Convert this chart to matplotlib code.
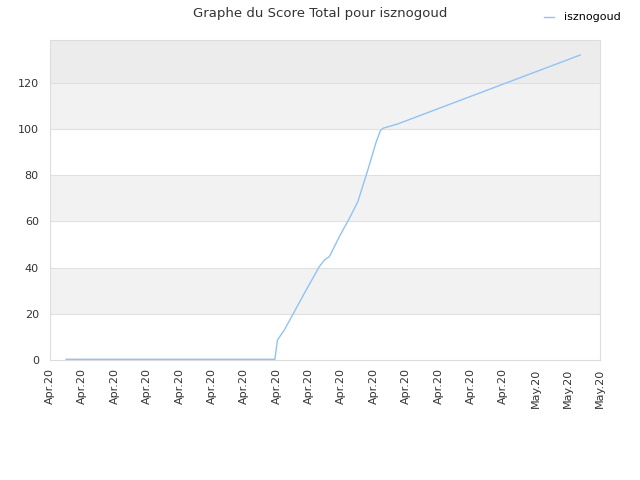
import matplotlib.pyplot as plt

# score values (x in tick-index units)
x_vals = [0.50, 6.95, 7.01, 7.03, 7.24, 7.55, 7.86, 8.32, 8.48, 8.63, 8.94, 9.25,
          9.51, 9.82, 10.08, 10.21, 10.29, 10.75, 16.38]
scores = [0.3, 0.3, 6.9, 8.7, 13.0, 20.9, 28.9, 40.4, 43.3, 44.7, 53.4, 61.3,
          68.5, 82.3, 94.5, 99.3, 100.3, 102.2, 132.0]
tick_labels = ['Apr.20'] * 15 + ['May.20'] * 3

fig = plt.figure(figsize=(6.4, 4.8), dpi=100)
ax = fig.add_axes([0.078, 0.25, 0.86, 0.6667])

ymax = 138.5
# alternating background bands
bands = [(20, 40, '#f2f2f2'), (60, 80, '#f2f2f2'), (100, 120, '#f2f2f2'), (120, ymax, '#ececec')]
for lo, hi, c in bands:
    ax.axhspan(lo, hi, color=c, zorder=0, lw=0)
for yv in range(20, 140, 20):
    ax.axhline(yv, color='#e0e0e0', lw=0.8, zorder=1)

ax.plot(x_vals, scores, color='#90c3f5', lw=1.0, label='isznogoud', zorder=3)

ax.set_xlim(0, 17)
ax.set_ylim(0, ymax)
ax.set_xticks(range(len(tick_labels)))
ax.set_xticklabels(tick_labels, rotation=90, fontsize=8, color='#333333')
ax.set_yticks(range(0, 140, 20))
ax.tick_params(axis='y', labelsize=8, labelcolor='#333333', length=0, pad=8)
ax.tick_params(axis='x', length=0, pad=6)
for s in ax.spines.values():
    s.set_color('#dddddd')

fig.suptitle('Graphe du Score Total pour isznogoud', x=0.5, y=0.985, fontsize=9.5, color='#333333')
fig.legend(loc='upper right', bbox_to_anchor=(0.985, 0.995), frameon=False, fontsize=8,
           handlelength=0.9, handletextpad=0.9)

fig.savefig('out.png', dpi=100)
